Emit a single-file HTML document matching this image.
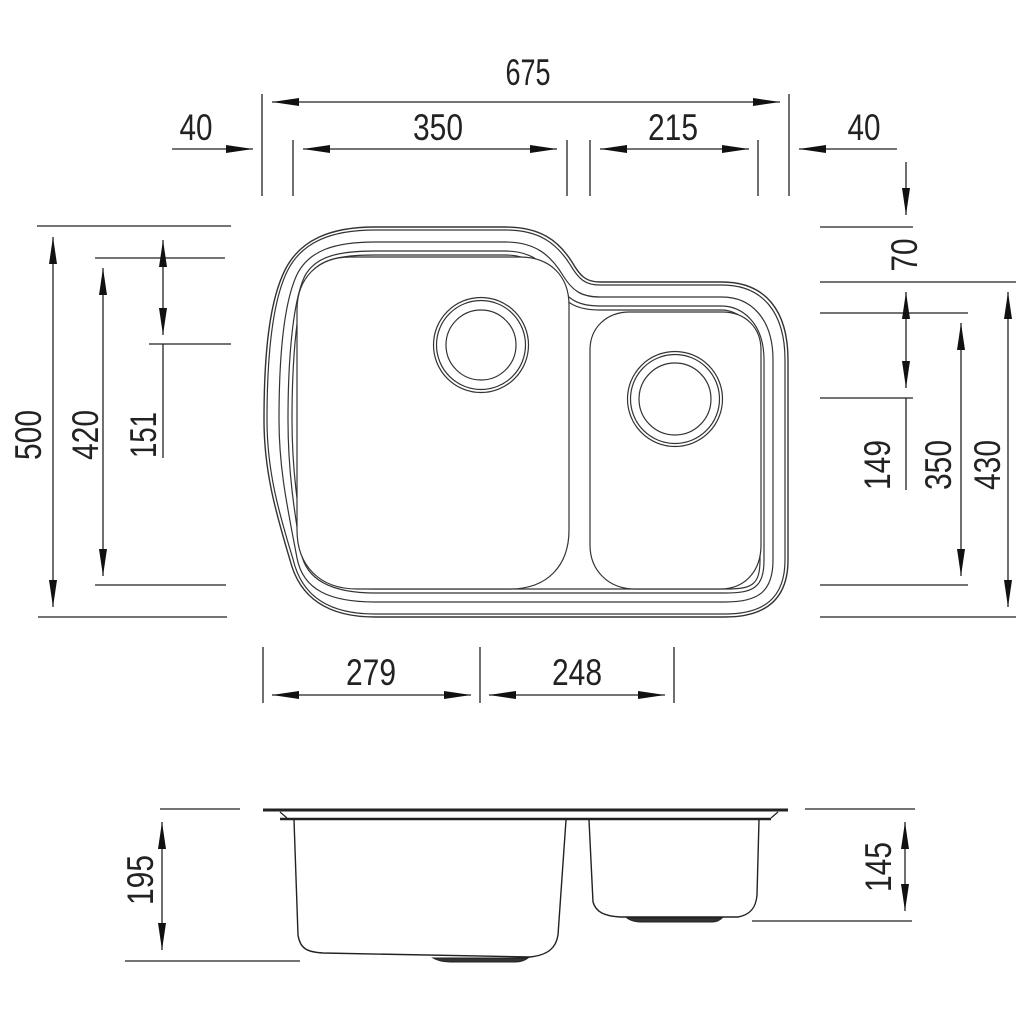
<!DOCTYPE html>
<html><head><meta charset="utf-8"><style>
html,body{margin:0;padding:0;background:#fff;}
svg{display:block;}
text{font-family:"Liberation Sans Narrow","Liberation Sans",sans-serif;font-size:37px;fill:#222;}
</style></head><body>
<svg width="1024" height="1024" viewBox="0 0 1024 1024" xmlns="http://www.w3.org/2000/svg">
<defs>
<marker id="a" viewBox="0 0 27 8" refX="27" refY="4" markerWidth="27" markerHeight="8" markerUnits="userSpaceOnUse" orient="auto-start-reverse">
<path d="M0,0 L27,4 L0,8 Z" fill="#111"/>
</marker>
</defs>
<g stroke="#222" stroke-width="1.3" fill="none">
<line x1="262" y1="94" x2="262" y2="196"/>
<line x1="789" y1="94" x2="789" y2="196"/>
<line x1="293" y1="140" x2="293" y2="196"/>
<line x1="567" y1="140" x2="567" y2="196"/>
<line x1="590" y1="140" x2="590" y2="196"/>
<line x1="758" y1="140" x2="758" y2="196"/>
<line x1="272" y1="102" x2="780" y2="102" marker-start="url(#a)" marker-end="url(#a)"/>
<line x1="303" y1="149" x2="557" y2="149" marker-start="url(#a)" marker-end="url(#a)"/>
<line x1="600" y1="149" x2="749" y2="149" marker-start="url(#a)" marker-end="url(#a)"/>
<line x1="172" y1="149" x2="253" y2="149" marker-end="url(#a)"/>
<line x1="897" y1="149" x2="799" y2="149" marker-end="url(#a)"/>
<line x1="906" y1="162" x2="906" y2="215" marker-end="url(#a)"/>
<line x1="820" y1="227" x2="913" y2="227"/>
<line x1="820" y1="282" x2="1016" y2="282"/>
<line x1="820" y1="313" x2="968" y2="313"/>
<line x1="820" y1="398" x2="913" y2="398"/>
<line x1="820" y1="585" x2="968" y2="585"/>
<line x1="820" y1="617" x2="1016" y2="617"/>
<line x1="906" y1="292" x2="906" y2="388" marker-start="url(#a)" marker-end="url(#a)"/>
<line x1="906" y1="398" x2="906" y2="490"/>
<line x1="961" y1="323" x2="961" y2="576" marker-start="url(#a)" marker-end="url(#a)"/>
<line x1="1008" y1="292" x2="1008" y2="607" marker-start="url(#a)" marker-end="url(#a)"/>
<line x1="37" y1="226" x2="231" y2="226"/>
<line x1="95" y1="258" x2="225" y2="258"/>
<line x1="149" y1="344" x2="231" y2="344"/>
<line x1="95" y1="585" x2="226" y2="585"/>
<line x1="38" y1="617" x2="227" y2="617"/>
<line x1="53" y1="237" x2="53" y2="607" marker-start="url(#a)" marker-end="url(#a)"/>
<line x1="103" y1="268" x2="103" y2="576" marker-start="url(#a)" marker-end="url(#a)"/>
<line x1="163" y1="240" x2="163" y2="335" marker-start="url(#a)" marker-end="url(#a)"/>
<line x1="163" y1="344" x2="163" y2="458"/>
<line x1="263" y1="647" x2="263" y2="703"/>
<line x1="480" y1="647" x2="480" y2="703"/>
<line x1="674" y1="647" x2="674" y2="703"/>
<line x1="272" y1="695" x2="471" y2="695" marker-start="url(#a)" marker-end="url(#a)"/>
<line x1="489" y1="695" x2="665" y2="695" marker-start="url(#a)" marker-end="url(#a)"/>
<line x1="160" y1="809" x2="240" y2="809"/>
<line x1="125" y1="961" x2="300" y2="961"/>
<line x1="162" y1="822" x2="162" y2="950" marker-start="url(#a)" marker-end="url(#a)"/>
<line x1="805" y1="809" x2="915" y2="809"/>
<line x1="752" y1="921" x2="912" y2="921"/>
<line x1="905" y1="822" x2="905" y2="911" marker-start="url(#a)" marker-end="url(#a)"/>
</g>
<g fill="none" stroke="#333" stroke-width="1.2">
<path d="M375 227 L505 227 C540 227 558 240 572 262 C580 276 586 282 600 282 L722 282 C765 282 788 310 788 360 L788 560 C788 600 765 617 725 617 L375 617 C330 617 300 600 290 560 C275 510 264 470 264 420 C264 350 270 300 285 270 C300 240 330 227 375 227 Z" stroke-width="1.4"/>
<path d="M375 230 L505 230 C539.1 230 556.5 243 570.2 264.7 C578.5 279 585.1 285 600 285 L722 285 C762 285 785 311.5 785 360 L785 560 C785 598.5 763.5 614 725 614 L375 614 C330.9 614 302.1 597.9 293 559.1 C278 510 267 470 267 420 C267 350 273 300 287.4 270.9 C301.8 242.1 330.9 230 375 230 Z"/>
<path d="M375 242 L505 242 C535.5 242 550.5 255 563 275.5 C572.5 291 581.5 297 600 297 L722 297 C750 297 773 317.5 773 360 L773 560 C773 592.5 757.5 602 725 602 L375 602 C330 602 303 590 297 558 C288 510 279 470 279 420 C279 350 285 300 297 274.5 C309 250.5 334.5 242 375 242 Z"/>
<path d="M375 251 L505 251 C532.8 251 546 264 557.6 283.6 C568 300 578.8 306 600 306 L722 306 C741 306 764 322 764 360 L764 560 C764 588 753 593 725 593 L375 593 C332 593 306 580 301 552 C294 510 288 470 288 420 C288 350 294 300 304.2 277.2 C314.4 256.8 337.2 251 375 251 Z"/>
<path d="M375 255 L505 255 C531.6 255 544 268 555.2 287.2 C566 304 577.6 310 600 310 L722 310 C737 310 760 324 760 360 L760 560 C760 586 751 589 725 589 L375 589 C335 589 310 577 305 550 C298 510 292 470 292 420 C292 350 298 300 307.4 278.4 C316.8 259.6 338.4 255 375 255 Z"/>
</g>
<g fill="#fff" stroke="#333" stroke-width="1.2">
<path d="M350 257 L520 257 C550 257 569 276 569 305 L569 530 C569 565 548 589 510 589 L357 589 C320 589 297 566 297 530 L297 310 C297 278 318 257 350 257 Z"/>
<path d="M630 312 L722 312 C746 312 761 328 761 350 L761 545 C761 570 746 589 720 589 L635 589 C608 589 590 570 590 545 L590 350 C590 328 606 312 630 312 Z"/>
<circle cx="481" cy="345" r="47.5"/>
<circle cx="481" cy="345" r="44.5"/>
<circle cx="481" cy="345" r="35"/>
<circle cx="675" cy="399" r="47.5"/>
<circle cx="675" cy="399" r="44.5"/>
<circle cx="675" cy="399" r="36"/>
</g>
<g fill="none" stroke="#222">
<line x1="263" y1="810" x2="788" y2="810" stroke-width="3"/>
<line x1="280" y1="819" x2="771" y2="819" stroke-width="2.5"/>
<path d="M280 812 L287 818 M771 818 L778 812" stroke-width="1.2"/>
<path d="M294 820 L298 935 C300 948 306 952 323 953 L530 957 C548 955 556 948 558 935 L566 820" stroke-width="1.4"/>
<path d="M589 820 L593 902 C596 912 604 916 620 917 L738 917 C750 915 756 908 757 895 L759 820" stroke-width="1.4"/>
<path d="M433 958 Q440 962 450 962 L515 962 Q523 962 528 958 Z" fill="#333" stroke-width="1"/>
<path d="M627 918 Q632 922 642 922 L712 922 Q718 922 722 918 Z" fill="#333" stroke-width="1"/>
</g>
<g text-anchor="middle">
<text x="528" y="85" textLength="45" lengthAdjust="spacingAndGlyphs">675</text>
<text x="438" y="140" textLength="50" lengthAdjust="spacingAndGlyphs">350</text>
<text x="673" y="140" textLength="50" lengthAdjust="spacingAndGlyphs">215</text>
<text x="196" y="140" textLength="33" lengthAdjust="spacingAndGlyphs">40</text>
<text x="864" y="140" textLength="33" lengthAdjust="spacingAndGlyphs">40</text>
<text x="371" y="685" textLength="50" lengthAdjust="spacingAndGlyphs">279</text>
<text x="577" y="685" textLength="50" lengthAdjust="spacingAndGlyphs">248</text>
<text transform="translate(917 255) rotate(-90)" textLength="33" lengthAdjust="spacingAndGlyphs">70</text>
<text transform="translate(890 465) rotate(-90)" textLength="50" lengthAdjust="spacingAndGlyphs">149</text>
<text transform="translate(951 465) rotate(-90)" textLength="50" lengthAdjust="spacingAndGlyphs">350</text>
<text transform="translate(1000 465) rotate(-90)" textLength="50" lengthAdjust="spacingAndGlyphs">430</text>
<text transform="translate(41 435) rotate(-90)" textLength="50" lengthAdjust="spacingAndGlyphs">500</text>
<text transform="translate(98 435) rotate(-90)" textLength="50" lengthAdjust="spacingAndGlyphs">420</text>
<text transform="translate(156 435) rotate(-90)" textLength="46" lengthAdjust="spacingAndGlyphs">151</text>
<text transform="translate(153 880) rotate(-90)" textLength="50" lengthAdjust="spacingAndGlyphs">195</text>
<text transform="translate(891 867) rotate(-90)" textLength="50" lengthAdjust="spacingAndGlyphs">145</text>
</g>
</svg>
</body></html>
